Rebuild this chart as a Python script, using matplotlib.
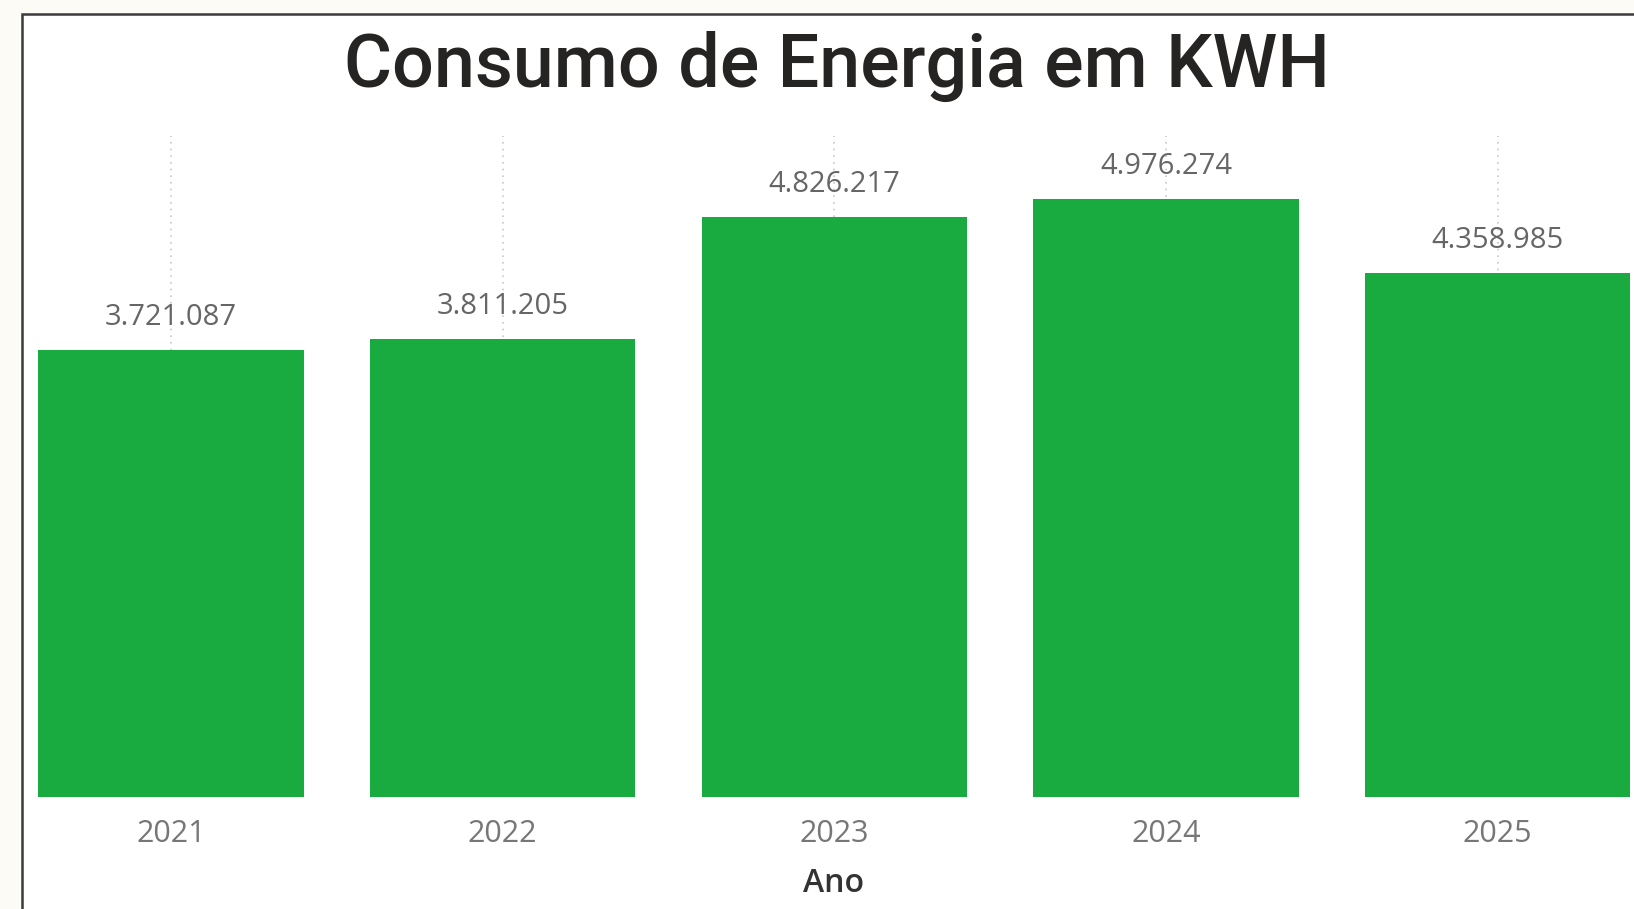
import matplotlib.pyplot as plt
from matplotlib.patches import Rectangle

anos = ['2021', '2022', '2023', '2024', '2025']
consumo = [3721087, 3811205, 4826217, 4976274, 4358985]

W, H = 1634, 909
fig = plt.figure(figsize=(W / 100, H / 100), dpi=100)
fig.patch.set_facecolor('#fdfbf6')

# white card with dark border, like the dashboard visual
fig.patches.append(Rectangle((22 / W, -0.05), 1.1, (909 - 14) / H + 0.05,
                             transform=fig.transFigure, facecolor='white',
                             edgecolor='#3a3a3a', linewidth=1.8, zorder=-5))

# axes placed in pixels: left 22, right 1634, top 136, baseline 797
ax = fig.add_axes([22 / W, (H - 797) / H, (W - 22) / W, (797 - 136) / H])
ax.set_facecolor('none')

x = range(len(anos))
bars = ax.bar(x, consumo, width=0.8, color='#1aab40', zorder=2)
ax.set_xlim(-(171 - 22) / 331.7, (W - 171) / 331.7)
ax.set_ylim(0, (797 - 136) / 120.1e-6)

labels = [f'{v:,}'.replace(',', '.') for v in consumo]
ax.bar_label(bars, labels=labels, padding=13, fontsize=21,
             color='#666666', family='Open Sans')

ax.set_xticks(list(x))
ax.set_xticklabels(anos, fontsize=22, color='#777777', family='Open Sans')
ax.tick_params(axis='x', length=0, pad=16)
ax.set_yticks([])
ax.grid(axis='x', linestyle=(0, (1, 3)), color='#c8c8c8', linewidth=1.2, zorder=1)
for s in ax.spines.values():
    s.set_visible(False)

ax.set_xlabel('Ano', fontsize=23, color='#333333', fontweight='semibold',
              family='Open Sans')
ax.xaxis.set_label_coords((834 - 22) / (W - 22), -(884 - 797) / (797 - 136))
ax.xaxis.label.set_va('center')

fig.text(837 / W, 1 - 66 / H, 'Consumo de Energia em KWH', ha='center', va='center',
         fontsize=53, color='#252423', family='Roboto', fontweight='medium')

plt.savefig('out.png', dpi=100, facecolor=fig.get_facecolor())
